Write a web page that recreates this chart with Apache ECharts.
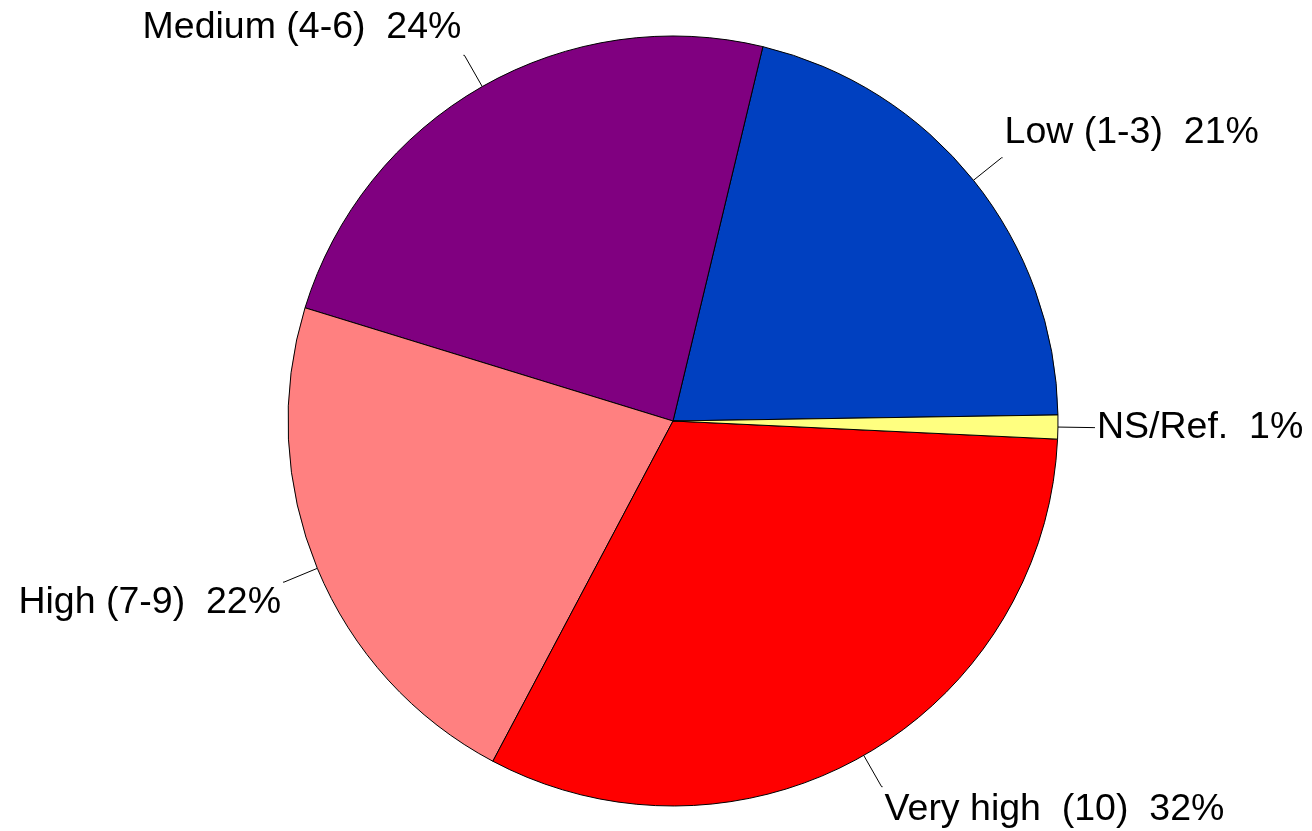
<!DOCTYPE html>
<html>
<head>
<meta charset="utf-8">
<script src="https://cdn.jsdelivr.net/npm/echarts@6/dist/echarts.min.js"></script>
<style>
html,body{margin:0;padding:0;background:#fff;}
#chart{width:1312px;height:831px;}
</style>
</head>
<body>
<div id="chart"></div>
<script>
// Data (order counter-clockwise from 3 o'clock)
const categories = ["Low (1-3)", "Medium (4-6)", "High (7-9)", "Very high  (10)", "NS/Ref."];
const values = [21, 24, 22, 32, 1];
const colors = ["#0040C0", "#800080", "#FF8080", "#FF0000", "#FFFF80"];
// label vertical shift (px, negative = up) to mimic the reference label offsets
const labelShift = [-25, -28, 21, 23, 0];

const chart = echarts.init(document.getElementById('chart'), null, {renderer: 'canvas'});
const data = categories.map((c, i) => {
  const s = labelShift[i];
  const item = {name: c, value: values[i], itemStyle: {color: colors[i]}};
  if (s !== 0) item.label = {lineHeight: Math.abs(s) * 2};
  return item;
});

chart.setOption({
  backgroundColor: '#ffffff',
  animation: false,
  series: [{
    type: 'pie',
    center: [673, 421],
    radius: 385,
    startAngle: 0.9,
    clockwise: false,
    avoidLabelOverlap: false,
    data: data,
    itemStyle: {borderColor: '#000', borderWidth: 1},
    emphasis: {disabled: true},
    label: {
      show: true,
      position: 'outside',
      alignTo: 'none',
      bleedMargin: 0,
      overflow: 'none',
      distanceToLabelLine: 2,
      color: '#000',
      fontFamily: 'Liberation Sans, Arial, sans-serif',
      fontSize: 37.5,
      formatter: p => {
        const t = p.name + '  ' + Math.round(p.percent) + '%';
        const s = labelShift[p.dataIndex];
        if (s < 0) return t + '\n ';
        if (s > 0) return ' \n' + t;
        return t;
      }
    },
    labelLine: {
      show: true,
      length: 36,
      length2: 1,
      smooth: false,
      lineStyle: {color: '#000', width: 1}
    }
  }]
});
</script>
</body>
</html>
